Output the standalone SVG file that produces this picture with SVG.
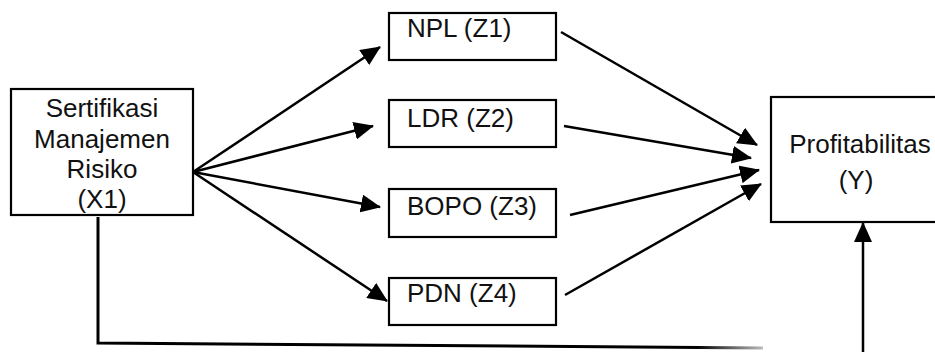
<svg xmlns="http://www.w3.org/2000/svg" width="935" height="352" viewBox="0 0 935 352">
<style>
.box{fill:#fff;stroke:#000;stroke-width:2.2}
.lbl{font-family:"Liberation Sans",Arial,sans-serif;font-size:26px;fill:#111}
.c{text-anchor:middle}
.ln{stroke:#000;stroke-width:2.5;fill:none}
</style>
<defs>
<marker id="ah" markerUnits="userSpaceOnUse" markerWidth="20" markerHeight="18" refX="19" refY="9" orient="auto">
<path d="M0,0 L20,9 L0,18 z" fill="#000"/>
</marker>
<linearGradient id="fade" gradientUnits="userSpaceOnUse" x1="98" y1="0" x2="763" y2="0">
<stop offset="0" stop-color="#000"/>
<stop offset="0.9" stop-color="#000"/>
<stop offset="1" stop-color="#bbb"/>
</linearGradient>
</defs>
<g id="X1">
<rect class="box" x="11" y="89" width="182" height="126"/>
<text class="lbl c" x="102" y="117">Sertifikasi</text>
<text class="lbl c" x="102" y="147.5">Manajemen</text>
<text class="lbl c" x="102" y="178">Risiko</text>
<text class="lbl c" x="102" y="208">(X1)</text>
</g>
<g id="Z1">
<rect class="box" x="389" y="13" width="167" height="47"/>
<text class="lbl" x="407" y="37">NPL (Z1)</text>
</g>
<g id="Z2">
<rect class="box" x="389" y="100" width="167" height="47"/>
<text class="lbl" x="407" y="127">LDR (Z2)</text>
</g>
<g id="Z3">
<rect class="box" x="389" y="189" width="167" height="48"/>
<text class="lbl" x="407" y="215">BOPO (Z3)</text>
</g>
<g id="Z4">
<rect class="box" x="389" y="278" width="167" height="47"/>
<text class="lbl" x="407" y="302">PDN (Z4)</text>
</g>
<g id="Y">
<rect class="box" x="771" y="97" width="180" height="125"/>
<text class="lbl c" x="860" y="153">Profitabilitas</text>
<text class="lbl c" x="856" y="189">(Y)</text>
</g>
<g id="connectors">
<line class="ln" x1="193" y1="172" x2="380" y2="47" marker-end="url(#ah)"/>
<line class="ln" x1="193" y1="172" x2="373" y2="126" marker-end="url(#ah)"/>
<line class="ln" x1="193" y1="172" x2="380" y2="207" marker-end="url(#ah)"/>
<line class="ln" x1="193" y1="172" x2="387" y2="301" marker-end="url(#ah)"/>
<line class="ln" x1="561" y1="32" x2="757" y2="145" marker-end="url(#ah)"/>
<line class="ln" x1="564" y1="126" x2="751" y2="158" marker-end="url(#ah)"/>
<line class="ln" x1="570" y1="215" x2="759" y2="170" marker-end="url(#ah)"/>
<line class="ln" x1="565" y1="295" x2="761" y2="184" marker-end="url(#ah)"/>
<path d="M98,217 L98,343 L763,348" fill="none" stroke="url(#fade)" stroke-width="3"/>
<line class="ln" x1="863" y1="352" x2="863" y2="223" marker-end="url(#ah)"/>
</g>
</svg>
